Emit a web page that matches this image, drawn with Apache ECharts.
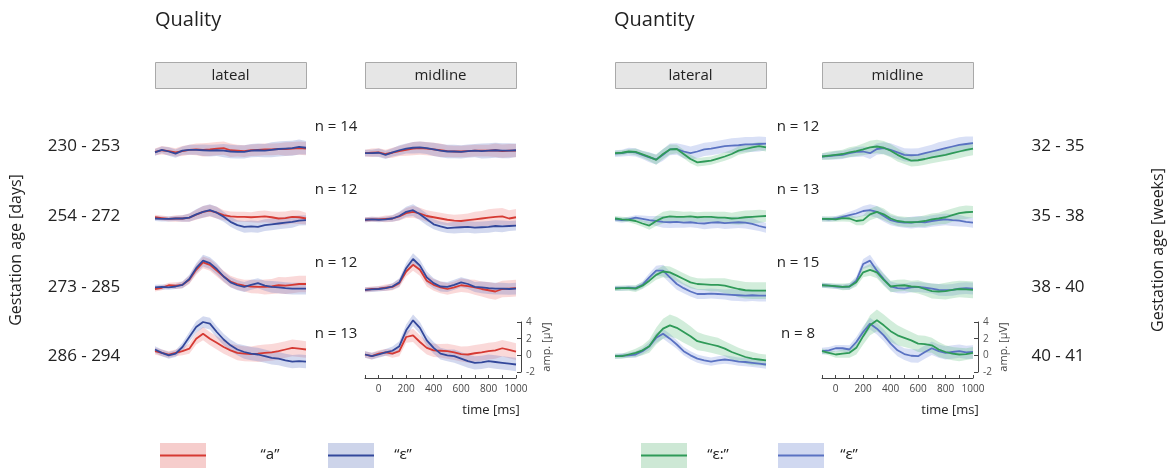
<!DOCTYPE html>
<html><head><meta charset="utf-8">
<script src="https://cdn.jsdelivr.net/npm/echarts/dist/echarts.min.js"></script>
<style>html,body{margin:0;padding:0;background:#fff}#c{width:1169px;height:474px}</style>
</head><body><div id="c"></div>
<script>
// ---------- DATA ----------
const times = [-100,-50,0,50,100,150,200,250,300,350,400,450,500,550,600,650,700,750,800,850,900,950,1000];
const xTickLabels = [0,200,400,600,800,1000];
const yTickLabels = [-2,0,2,4];
const rowLabelsDays = ['230 - 253','254 - 272','273 - 285','286 - 294'];
const rowLabelsWeeks = ['32 - 35','35 - 38','38 - 40','40 - 41'];
const nQuality = ['n = 14','n = 12','n = 12','n = 13'];
const nQuantity = ['n = 12','n = 13','n = 15','n = 8'];
const panelTitles = ['lateal','midline','lateral','midline'];

// Quality, lateral (red "a", blue "ɛ")
const qlatRed1  = [0.05,0.25,0.15,0.0,0.15,0.3,0.35,0.3,0.35,0.45,0.5,0.25,0.2,0.15,0.25,0.3,0.35,0.35,0.4,0.4,0.45,0.5,0.45];
const qlatBlue1 = [0.0,0.3,0.1,-0.15,0.2,0.3,0.3,0.25,0.2,0.25,0.2,0.1,0.05,0.05,0.2,0.25,0.2,0.3,0.4,0.45,0.5,0.65,0.55];
const qlatRed2  = [0.25,0.15,0.05,0.1,0.1,0.2,0.55,0.9,1.05,0.8,0.5,0.35,0.3,0.3,0.25,0.3,0.35,0.25,0.1,0.15,0.3,0.25,0.1];
const qlatBlue2 = [0.1,0.05,0.05,0.1,0.1,0.2,0.6,0.9,1.1,0.8,0.3,-0.3,-0.7,-0.9,-0.85,-0.9,-0.7,-0.6,-0.5,-0.4,-0.3,-0.15,-0.1];
const qlatRed3  = [-0.2,-0.05,0.25,0.2,0.3,0.9,2.1,3.0,2.7,2.0,1.3,0.7,0.4,0.2,0.1,0.05,0.05,0.1,0.25,0.2,0.3,0.4,0.4];
const qlatBlue3 = [0.0,0.05,0.0,0.1,0.3,1.0,2.3,3.2,2.9,2.2,1.3,0.6,0.25,0.05,0.3,0.5,0.2,0.05,0.0,-0.1,-0.15,-0.15,-0.15];
const qlatRed4  = [0.5,0.3,0.1,0.3,0.5,0.8,2.0,2.6,2.0,1.5,1.0,0.6,0.3,0.2,0.15,0.2,0.3,0.35,0.5,0.7,0.9,0.8,0.7];
const qlatBlue4 = [0.7,0.3,0.0,0.2,1.0,2.2,3.4,4.0,3.8,2.8,1.9,1.2,0.7,0.4,0.2,0.1,-0.1,-0.3,-0.4,-0.6,-0.75,-0.7,-0.75];
// Quality, midline
const qmidRed1  = [-0.1,-0.05,0.0,-0.2,-0.05,0.15,0.3,0.45,0.5,0.45,0.35,0.25,0.15,0.1,0.1,0.15,0.2,0.2,0.2,0.25,0.15,0.2,0.2];
const qmidBlue1 = [-0.1,-0.1,-0.05,-0.3,0.0,0.25,0.45,0.55,0.6,0.5,0.35,0.2,0.1,0.1,0.05,0.15,0.2,0.15,0.2,0.25,0.2,0.2,0.25];
const qmidRed2  = [-0.05,0.0,0.0,0.05,0.1,0.35,0.75,0.9,0.7,0.4,0.25,0.1,-0.05,-0.15,-0.2,-0.1,0.0,0.1,0.2,0.3,0.35,0.1,0.25];
const qmidBlue2 = [-0.05,0.0,-0.05,0.0,0.1,0.4,0.9,1.1,0.6,0.0,-0.6,-0.85,-1.05,-1.0,-0.95,-0.9,-1.0,-0.95,-0.9,-0.8,-0.85,-0.8,-0.75];
const qmidRed3  = [-0.3,-0.2,-0.15,-0.05,0.05,0.5,1.9,2.7,2.1,0.8,0.3,0.0,-0.2,0.0,0.25,0.15,0.0,-0.2,-0.35,-0.5,-0.2,-0.15,-0.1];
const qmidBlue3 = [-0.3,-0.25,-0.2,-0.1,0.1,0.6,2.3,3.4,2.6,1.2,0.5,0.1,0.05,0.3,0.6,0.4,0.05,0.0,-0.1,-0.15,-0.15,-0.2,-0.15];
const qmidRed4  = [0.1,-0.1,0.2,0.35,0.2,0.5,2.2,2.4,1.6,0.9,0.6,0.55,0.5,0.35,0.15,0.1,0.25,0.35,0.5,0.6,0.85,0.65,0.45];
const qmidBlue4 = [0.1,-0.1,0.1,0.35,0.55,1.1,3.0,4.2,3.3,1.8,0.9,0.2,0.0,-0.1,-0.4,-0.7,-0.9,-0.85,-0.7,-0.8,-0.9,-1.0,-1.1];
// Quantity, lateral (green "ɛ:", blue "ɛ")
const nlatGreen1 = [-0.1,-0.05,0.1,0.05,-0.25,-0.55,-0.9,-0.2,0.35,0.4,-0.2,-0.8,-1.2,-1.1,-1.0,-0.75,-0.5,-0.2,0.2,0.4,0.6,0.75,0.6];
const nlatBlue1  = [-0.15,-0.1,0.05,0.0,-0.3,-0.6,-0.85,-0.3,0.35,0.4,0.1,-0.1,0.1,0.35,0.45,0.6,0.75,0.8,0.85,0.95,0.95,1.0,1.05];
const nlatGreen2 = [0.1,0.0,-0.05,-0.2,-0.5,-0.75,-0.2,0.2,0.35,0.3,0.3,0.35,0.25,0.3,0.3,0.2,0.2,0.1,0.15,0.25,0.3,0.35,0.4];
const nlatBlue2  = [0.0,-0.1,0.0,0.2,0.05,-0.1,-0.2,-0.3,-0.35,-0.3,-0.4,-0.35,-0.45,-0.5,-0.4,-0.35,-0.45,-0.4,-0.35,-0.4,-0.55,-0.8,-1.0];
const nlatGreen3 = [-0.15,-0.1,-0.1,-0.15,0.2,0.8,1.5,1.9,1.8,1.4,1.0,0.6,0.4,0.35,0.3,0.3,0.2,0.0,-0.2,-0.35,-0.4,-0.4,-0.4];
const nlatBlue3  = [-0.1,-0.1,-0.05,-0.1,0.3,1.2,2.0,2.0,1.2,0.4,-0.1,-0.5,-0.8,-0.8,-0.75,-0.8,-0.85,-0.9,-0.95,-1.0,-0.95,-1.0,-1.0];
const nlatGreen4 = [-0.1,-0.1,0.1,0.3,0.6,1.1,2.3,3.2,3.6,3.3,2.8,2.3,1.7,1.5,1.3,1.1,0.8,0.4,0.1,-0.2,-0.4,-0.5,-0.6];
const nlatBlue4  = [-0.1,-0.05,0.0,0.1,0.5,1.1,2.1,2.6,2.0,1.3,0.5,0.0,-0.4,-0.6,-0.75,-0.6,-0.5,-0.6,-0.75,-0.8,-0.9,-1.0,-1.1];
// Quantity, midline
const nmidGreen1 = [-0.5,-0.4,-0.3,-0.2,0.0,0.15,0.35,0.6,0.7,0.55,0.2,-0.3,-0.7,-1.0,-0.95,-0.8,-0.6,-0.45,-0.3,-0.1,0.1,0.3,0.45];
const nmidBlue1  = [-0.5,-0.45,-0.35,-0.3,-0.1,0.05,0.1,-0.1,0.4,0.5,0.3,0.0,-0.3,-0.35,-0.3,-0.1,0.1,0.3,0.5,0.7,0.9,1.0,1.1];
const nmidGreen2 = [0.05,0.05,0.0,0.15,0.1,-0.2,-0.1,0.6,0.9,0.6,0.1,-0.2,-0.3,-0.35,-0.3,-0.2,0.0,0.1,0.25,0.5,0.75,0.85,0.9];
const nmidBlue2  = [0.05,0.0,0.1,0.3,0.5,0.7,1.0,1.1,0.9,0.4,-0.1,-0.3,-0.4,-0.4,-0.3,-0.35,-0.2,-0.1,0.0,-0.1,-0.15,-0.3,-0.4];
const nmidGreen3 = [0.25,0.2,0.15,0.05,0.1,0.6,1.8,2.1,1.8,0.9,0.1,0.2,0.25,0.1,0.05,-0.2,-0.45,-0.5,-0.45,-0.3,-0.2,-0.25,-0.3];
const nmidBlue3  = [0.25,0.2,0.1,0.05,0.1,0.8,2.8,3.2,2.0,1.0,0.1,-0.1,-0.15,0.0,0.05,-0.05,-0.15,-0.3,-0.35,-0.3,-0.15,-0.1,-0.15];
const nmidGreen4 = [0.5,0.3,0.1,0.2,0.3,0.9,2.3,3.6,4.2,3.6,2.9,2.4,2.1,1.8,1.4,1.35,1.2,0.7,0.4,0.2,0.1,0.15,0.3];
const nmidBlue4  = [0.5,0.6,0.85,0.85,0.7,1.6,2.8,3.8,3.2,2.4,1.4,0.6,0.15,-0.05,-0.1,0.4,0.85,0.5,0.3,0.4,0.5,0.35,0.4];

// Band half-widths
const sdRow1a = [0.4,0.5,0.5,0.5,0.6,0.6,0.7,0.8,0.8,0.8,0.8,0.8,0.7,0.7,0.7,0.7,0.7,0.7,0.7,0.8,0.8,0.8,0.8];
const sdRow1b = [0.4,0.4,0.5,0.5,0.5,0.6,0.6,0.7,0.7,0.7,0.8,0.8,0.8,0.8,0.8,0.8,0.8,0.9,0.9,0.9,0.9,0.9,0.8];
const sdRow2a = [0.3,0.3,0.3,0.4,0.4,0.5,0.6,0.7,0.7,0.7,0.6,0.6,0.6,0.6,0.6,0.7,0.7,0.7,0.8,0.8,0.8,0.8,0.7];
const sdRow2b = [0.3,0.3,0.3,0.3,0.4,0.5,0.6,0.7,0.7,0.7,0.6,0.6,0.6,0.7,0.7,0.7,0.7,0.7,0.7,0.7,0.7,0.6,0.6];
const sdRow3a = [0.3,0.3,0.3,0.4,0.4,0.5,0.6,0.7,0.7,0.7,0.7,0.7,0.7,0.7,0.8,0.8,0.9,0.9,1.0,1.0,1.0,1.0,1.0];
const sdRow3b = [0.3,0.3,0.3,0.3,0.4,0.5,0.6,0.7,0.7,0.7,0.6,0.6,0.6,0.6,0.6,0.6,0.6,0.7,0.7,0.7,0.7,0.7,0.7];
const sdRow4a = [0.4,0.4,0.4,0.4,0.5,0.6,0.7,0.8,0.8,0.8,0.8,0.8,0.9,0.9,0.9,1.0,1.0,1.0,1.0,1.0,1.0,1.0,1.0];
const sdRow4b = [0.4,0.4,0.4,0.4,0.5,0.6,0.7,0.7,0.7,0.7,0.7,0.7,0.7,0.8,0.8,0.8,0.8,0.8,0.8,0.8,0.8,0.8,0.8];
const sdWideGreen = [0.3,0.3,0.4,0.5,0.6,0.8,1.0,1.2,1.3,1.3,1.3,1.2,1.1,1.0,1.0,1.0,0.9,0.9,0.8,0.8,0.8,0.7,0.7];
const sdNarrow = [0.3,0.3,0.3,0.4,0.4,0.5,0.6,0.6,0.6,0.5,0.5,0.5,0.5,0.5,0.5,0.5,0.5,0.5,0.5,0.5,0.5,0.5,0.5];

// ---------- LAYOUT / STYLE ----------
const colLeft = [155, 365, 615, 822];
const colWidth = 151;
const rowTop = [119, 186, 254, 322];
const rowHeight = 50;
const FONT = '"Open Sans", "Noto Sans", sans-serif';

const C = {
  red:   {line:'#d63a33', band:'rgba(236,120,118,0.28)', box:'#f6cdcc'},
  qblue: {line:'#33489b', band:'rgba(98,120,196,0.28)', box:'#cdd4ea'},
  green: {line:'#2f9a58', band:'rgba(95,190,125,0.28)', box:'#cde8d5'},
  nblue: {line:'#5a72c2', band:'rgba(120,145,222,0.28)', box:'#d0d8f0'}
};

const panels = [
  [qlatRed1,sdRow1a,'red', qlatBlue1,sdRow1b,'qblue'],
  [qlatRed2,sdRow2a,'red', qlatBlue2,sdRow2b,'qblue'],
  [qlatRed3,sdRow3a,'red', qlatBlue3,sdRow3b,'qblue'],
  [qlatRed4,sdRow4a,'red', qlatBlue4,sdRow4b,'qblue'],
  [qmidRed1,sdRow1a,'red', qmidBlue1,sdRow1b,'qblue'],
  [qmidRed2,sdRow3a,'red', qmidBlue2,sdRow2b,'qblue'],
  [qmidRed3,sdRow3a,'red', qmidBlue3,sdRow3b,'qblue'],
  [qmidRed4,sdRow4a,'red', qmidBlue4,sdRow4b,'qblue'],
  [nlatBlue1,sdRow1b,'nblue', nlatGreen1,sdNarrow,'green'],
  [nlatBlue2,sdRow2b,'nblue', nlatGreen2,sdRow2a,'green'],
  [nlatBlue3,sdRow3b,'nblue', nlatGreen3,sdRow3a,'green'],
  [nlatBlue4,sdNarrow,'nblue', nlatGreen4,sdWideGreen,'green'],
  [nmidBlue1,sdRow1b,'nblue', nmidGreen1,sdRow1a,'green'],
  [nmidBlue2,sdRow2b,'nblue', nmidGreen2,sdRow2a,'green'],
  [nmidBlue3,sdRow3b,'nblue', nmidGreen3,sdRow3a,'green'],
  [nmidBlue4,sdRow4b,'nblue', nmidGreen4,sdWideGreen,'green']
];

const grid = [], xAxis = [], yAxis = [], series = [];
panels.forEach((p, gi) => {
  const col = Math.floor(gi / 4), row = gi % 4;
  const axisPanel = (row === 3 && (col === 1 || col === 3));
  grid.push({left: colLeft[col], top: rowTop[row], width: colWidth, height: rowHeight});
  xAxis.push({
    type:'value', gridIndex:gi, min:-100, max:1000, interval:100, show: axisPanel,
    position:'bottom', offset:6,
    axisLine:{show:true, onZero:false, lineStyle:{color:'#444', width:1}},
    axisTick:{show:true, inside:true, length:3, lineStyle:{color:'#444'}},
    axisLabel:{show:true, fontSize:10, color:'#444', margin:6, fontFamily:FONT,
      formatter: v => (xTickLabels.indexOf(v) >= 0 ? String(v) : '')},
    splitLine:{show:false}
  });
  yAxis.push({
    type:'value', gridIndex:gi, min:-2, max:4, interval:2, show: axisPanel,
    position:'right', offset:5,
    axisLine:{show:true, onZero:false, lineStyle:{color:'#444', width:1}},
    axisTick:{show:true, inside:true, length:4, lineStyle:{color:'#444'}},
    axisLabel:{show:true, fontSize:10, color:'#555', margin:5, fontFamily:FONT,
      formatter: v => (yTickLabels.indexOf(v) >= 0 ? String(v) : '')},
    splitLine:{show:false},
    name:'amp. [µV]', nameLocation:'middle', nameRotate:90, nameGap:20,
    nameTextStyle:{fontSize:11, color:'#444', fontFamily:FONT}
  });
  const pairs = [[p[0],p[1],p[2]],[p[3],p[4],p[5]]];
  pairs.forEach((s, si) => {
    const [mean, sd, ck] = s;
    series.push({
      type:'custom', xAxisIndex:gi, yAxisIndex:gi, silent:true, clip:false, z:1,
      data:[[times[0], mean[0]]],
      renderItem: (params, api) => {
        const pts = [];
        for (let i = 0; i < times.length; i++) pts.push(api.coord([times[i], mean[i] + sd[i]]));
        for (let i = times.length - 1; i >= 0; i--) pts.push(api.coord([times[i], mean[i] - sd[i]]));
        return {type:'polygon', shape:{points:pts}, style:{fill:C[ck].band}};
      }
    });
  });
  pairs.forEach((s, si) => {
    const [mean, , ck] = s;
    series.push({
      type:'line', xAxisIndex:gi, yAxisIndex:gi,
      data: mean.map((m,i) => [times[i], m]),
      symbol:'none', lineStyle:{color:C[ck].line, width:1.8}, silent:true, clip:false, z:3 + si
    });
  });
});

// ---------- TEXT / DECORATION ----------
const g = [];
function txt(text, x, y, size, extra, align) {
  g.push(Object.assign({type:'text', x:x, y:y, silent:true,
    style:{text:text, font: size + 'px ' + FONT, fill:'#222', textAlign: align || 'center', textVerticalAlign:'middle'}}, extra || {}));
}
txt('Quality', 155, 20, 20, null, 'left');
txt('Quantity', 614, 20, 20, null, 'left');
colLeft.forEach((l, i) => {
  g.push({type:'rect', shape:{x:l+0.5, y:62.5, width:colWidth, height:26}, silent:true,
    style:{fill:'#e6e6e6', stroke:'#a9a9a9', lineWidth:1}});
  txt(panelTitles[i], l + colWidth/2, 75.5, 15);
});
const rowCenter = [146, 216, 287, 356];
rowLabelsDays.forEach((t, i) => txt(t, 84, rowCenter[i], 17));
rowLabelsWeeks.forEach((t, i) => txt(t, 1058, rowCenter[i], 17));
const nY = [127, 190, 263, 334];
nQuality.forEach((t, i) => txt(t, 336, nY[i], 15));
nQuantity.forEach((t, i) => txt(t, 798, nY[i], 15));
txt('Gestation age [days]', 16, 250, 16, {rotation: Math.PI/2});
txt('Gestation age [weeks]', 1158, 250, 16, {rotation: Math.PI/2});
txt('time [ms]', 491, 410, 13);
txt('time [ms]', 950, 410, 13);

// legend
const legendItems = [
  ['“a”', 'red', 160, 270],
  ['“ɛ”', 'qblue', 328, 403],
  ['“ɛ:”', 'green', 641, 718],
  ['“ɛ”', 'nblue', 778, 849]
];
legendItems.forEach(([t, ck, bx, tx]) => {
  g.push({type:'rect', shape:{x:bx, y:443, width:46, height:25}, silent:true, style:{fill:C[ck].box}});
  g.push({type:'line', shape:{x1:bx, y1:455.5, x2:bx+46, y2:455.5}, silent:true, style:{stroke:C[ck].line, lineWidth:2}});
  txt(t, tx, 455, 15);
});

const chart = echarts.init(document.getElementById('c'), null, {renderer:'canvas'});
chart.setOption({
  animation:false,
  backgroundColor:'#ffffff',
  grid, xAxis, yAxis, series,
  graphic: g
});
</script></body></html>
